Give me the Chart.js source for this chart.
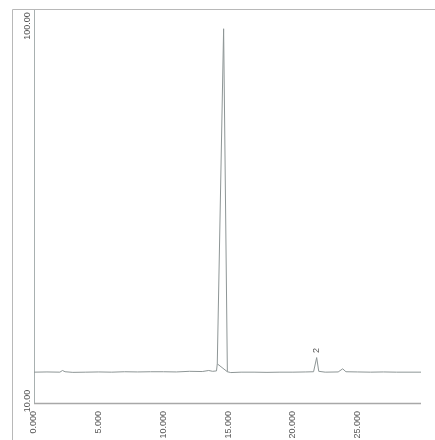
<!DOCTYPE html>
<html>
<head>
<meta charset="utf-8">
<script src="https://cdn.jsdelivr.net/npm/chart.js@4"></script>
<style>
html,body{margin:0;padding:0;background:#fff;}
#wrap{width:435px;height:440px;}
</style>
</head>
<body>
<div id="wrap"><canvas id="c" width="435" height="440"></canvas></div>
<script>
// retention time (min) and detector signal
const times = [0.0, 1.0, 2.0, 2.2, 2.4, 3.0, 4.0, 5.0, 6.0, 7.0, 8.0, 9.0, 10.0, 11.0, 12.0, 13.0, 13.5, 13.8, 14.1, 14.16, 14.65, 14.94, 15.2, 16.0, 17.0, 18.0, 19.0, 20.0, 21.0, 21.6, 21.84, 22.0, 22.5, 23.5, 23.85, 24.1, 25.0, 26.0, 27.0, 28.0, 29.9];
const signal = [17.4, 17.45, 17.4, 17.8, 17.5, 17.35, 17.4, 17.45, 17.4, 17.5, 17.45, 17.5, 17.5, 17.45, 17.6, 17.55, 17.8, 17.6, 17.7, 19.4, 99.8, 17.5, 17.3, 17.4, 17.4, 17.35, 17.4, 17.4, 17.45, 17.5, 20.9, 17.6, 17.4, 17.45, 18.2, 17.5, 17.45, 17.4, 17.45, 17.4, 17.4];
// integration baseline under the main peak
const baseTimes = [14.16, 14.94];
const baseValues = [19.4, 17.5];
// peak labels
const peakLabels = ["2"];
const peakLabelTimes = [21.84];
const peakLabelValues = [22.6];
// tick labels
const xTickValues = [0, 5, 10, 15, 20, 25];
const xTickLabels = ["0.000", "5.000", "10.000", "15.000", "20.000", "25.000"];
const yTickValues = [10, 100];
const yTickLabels = ["10.00", "100.00"];

const FONT = '9px "Liberation Sans", Arial, sans-serif';
const TEXT = '#555';

const decor = {
  id: 'decor',
  beforeDraw(chart) {
    const ctx = chart.ctx;
    ctx.save();
    ctx.fillStyle = '#fff';
    ctx.fillRect(0, 0, chart.width, chart.height);
    ctx.strokeStyle = '#b8b8b8';
    ctx.lineWidth = 1;
    ctx.beginPath();
    ctx.moveTo(12.5, 440);
    ctx.lineTo(12.5, 9.5);
    ctx.lineTo(435, 9.5);
    ctx.stroke();
    ctx.restore();
  },
  afterDraw(chart) {
    const ctx = chart.ctx;
    const xs = chart.scales.x, ys = chart.scales.y;
    const a = chart.chartArea;
    ctx.save();
    // bottom axis line
    ctx.strokeStyle = '#a8a8a8';
    ctx.lineWidth = 1.5;
    ctx.beginPath();
    ctx.moveTo(a.left, a.bottom + 0.5);
    ctx.lineTo(a.right, a.bottom + 0.5);
    ctx.stroke();
    ctx.font = FONT;
    ctx.fillStyle = TEXT;
    // y tick labels, rotated
    yTickValues.forEach((v, i) => {
      const py = ys.getPixelForValue(v);
      ctx.save();
      ctx.translate(28, py - 2);
      ctx.rotate(-Math.PI / 2);
      ctx.textAlign = 'center';
      ctx.textBaseline = 'middle';
      ctx.fillText(yTickLabels[i], 0, 0);
      ctx.restore();
    });
    // peak labels
    peakLabels.forEach((t, i) => {
      const px = xs.getPixelForValue(peakLabelTimes[i]);
      const py = ys.getPixelForValue(peakLabelValues[i]);
      ctx.save();
      ctx.translate(px, py);
      ctx.rotate(-Math.PI / 2);
      ctx.textAlign = 'center';
      ctx.textBaseline = 'middle';
      ctx.fillText(t, 0, 0);
      ctx.restore();
    });
    ctx.restore();
  }
};

new Chart(document.getElementById('c'), {
  type: 'line',
  data: {
    datasets: [
      {
        data: times.map((t, i) => ({x: t, y: signal[i]})),
        borderColor: '#8e9696',
        borderWidth: 1,
        pointRadius: 0,
        tension: 0
      },
      {
        data: baseTimes.map((t, i) => ({x: t, y: baseValues[i]})),
        borderColor: '#8e9696',
        borderWidth: 1,
        pointRadius: 0,
        tension: 0
      }
    ]
  },
  options: {
    responsive: false,
    devicePixelRatio: 1,
    animation: false,
    layout: {padding: {left: 0, top: 10, right: 14, bottom: 0}},
    plugins: {legend: {display: false}, tooltip: {enabled: false}},
    scales: {
      x: {
        type: 'linear',
        min: 0,
        max: 29.9,
        grid: {display: false, drawTicks: false},
        border: {display: false},
        afterBuildTicks(scale) { scale.ticks = xTickValues.map(v => ({value: v})); },
        afterFit(scale) { scale.height = 37; },
        ticks: {
          minRotation: 90,
          maxRotation: 90,
          padding: 8,
          color: TEXT,
          font: {family: '"Liberation Sans", Arial, sans-serif', size: 9},
          callback(v) { const i = xTickValues.indexOf(v); return i >= 0 ? xTickLabels[i] : ''; }
        }
      },
      y: {
        type: 'linear',
        min: 10,
        max: 104.3,
        grid: {display: false, drawTicks: false},
        border: {display: true, color: '#a8b0b0', width: 1},
        afterBuildTicks(scale) { scale.ticks = yTickValues.map(v => ({value: v})); },
        afterFit(scale) { scale.width = 34; },
        ticks: {display: false}
      }
    }
  },
  plugins: [decor]
});
</script>
</body>
</html>
